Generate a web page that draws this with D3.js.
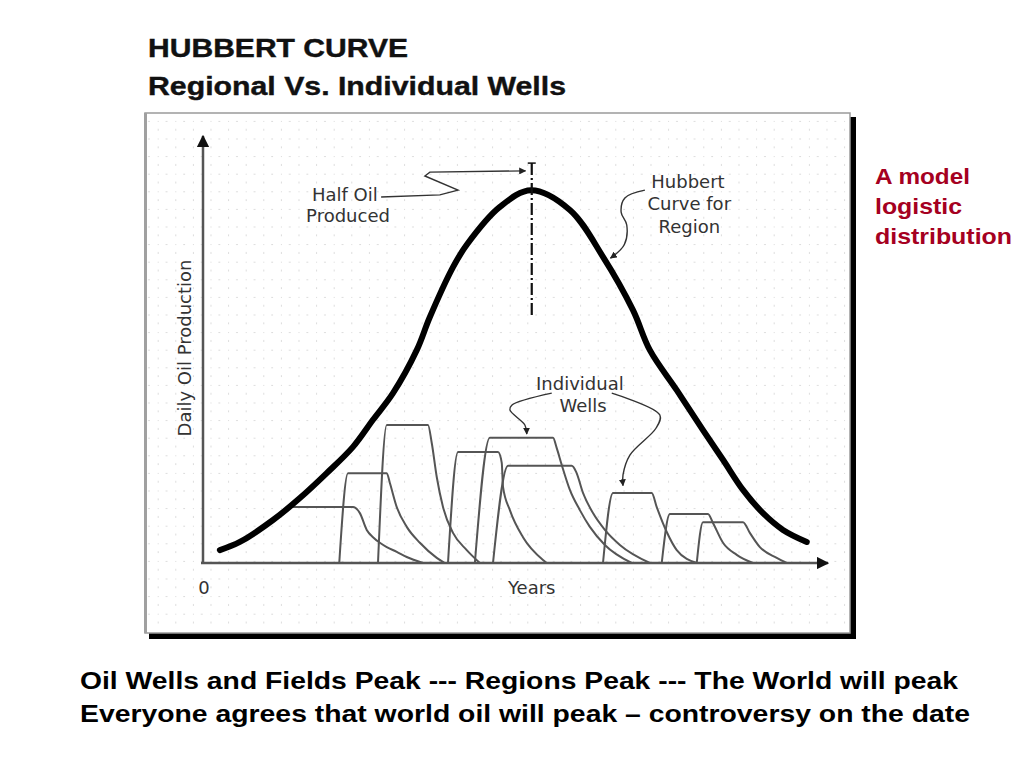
<!DOCTYPE html>
<html><head><meta charset="utf-8">
<script src="https://cdn.jsdelivr.net/npm/d3@7/dist/d3.min.js"></script>
<style>
html,body{margin:0;padding:0;background:#fff;}
svg{display:block;}
</style></head>
<body>
<svg id="chart" width="1024" height="768"></svg>
<script>
// ---------- DATA (years / production in chart units 0..100) ----------
const titleLines = ["HUBBERT CURVE", "Regional Vs. Individual Wells"];
const yAxisLabel = "Daily Oil Production";
const xAxisLabel = "Years";
const xTickLabels = ["0"];
const sideNote = ["A model", "logistic", "distribution"];
const footer = ["Oil Wells and Fields Peak --- Regions Peak --- The World will peak",
                "Everyone agrees that world oil will peak \u2013 controversy on the date"];

// Regional Hubbert curve [year, production]
const hubbertCurve = [
  [2.7,3.0],[5.9,4.9],[11.2,10.0],[15.5,15.1],[19.8,20.9],[24.0,27.0],[27.2,33.3],
  [30.4,39.5],[34.2,49.5],[36.3,57.2],[40.0,68.8],[42.2,74.0],[47.5,82.8],
  [52.5,86.7],[58.7,82.1],[64.0,71.2],[68.8,58.8],[71.5,49.5],[75.8,40.2],
  [80.0,30.9],[83.2,24.0],[86.4,17.0],[89.6,11.6],[92.8,7.7],[96.6,4.9]
];
const peakYear = 52.6;
const halfOilLine = [93.0, 57.7];  // vertical dash-dot from/to production

// Individual wells [year, production]
const wellA = [[13.8,13.0],[24.0,13.0],[25.1,11.6],[26.2,7.7],[27.2,6.0],[28.3,4.7],[29.4,3.7],[31.0,2.6],[32.6,1.4],[35.2,0]];
const wellB = [[21.8,0],[23.2,20.9],[29.4,20.9],[29.9,18.6],[31.0,13.0],[32.6,8.4],[34.7,4.7],[37.4,1.2],[38.7,0]];
const wellC = [[28.0,0],[29.4,32.1],[36.0,32.1],[36.6,27.9],[37.4,20.0],[38.4,13.0],[40.0,7.0],[42.2,3.0],[44.3,0]];
const wellD = [[39.2,0],[40.8,25.8],[47.2,25.8],[47.8,23.3],[48.0,17.7],[49.1,12.3],[51.2,6.0],[54.4,0.7],[55.0,0]];
const wellE = [[43.5,0],[45.9,29.1],[56.0,29.1],[56.6,26.7],[57.4,22.8],[58.7,17.0],[60.3,12.3],[61.9,8.4],[64.3,4.2],[68.6,0]];
const wellF = [[46.4,0],[48.8,22.6],[59.0,22.6],[59.7,21.2],[60.8,16.3],[62.4,11.6],[64.3,7.7],[66.7,4.2],[71.5,0]];
const wellG = [[64.0,0],[65.6,16.3],[71.8,16.3],[72.6,13.0],[74.2,7.2],[75.8,3.0],[79.0,0]];
const wellH = [[73.4,0],[74.7,11.4],[80.8,11.4],[81.6,9.3],[83.2,4.7],[85.4,1.9],[88.0,0]];
const wellI = [[79.0,0],[80.0,9.5],[86.4,9.5],[87.5,7.0],[89.1,3.7],[91.8,1.2],[93.4,0]];
const wells = [wellA, wellB, wellC, wellD, wellE, wellF, wellG, wellH, wellI];

// Annotations (chart units)
const halfOilText = [{t:"Half Oil", x:22.7, y:84.2}, {t:"Produced", x:23.2, y:79.3}];
const halfOilLeader = [[28.5,85.1],[37.9,85.6],[40.8,86.7],[35.5,90.0],[36.3,90.9],[51.6,91.2]];
const hubbertText = [{t:"Hubbert", x:77.6, y:87.2}, {t:"Curve for", x:77.8, y:82.1}, {t:"Region", x:77.8, y:76.7}];
const hubbertLeader = [[70.7,86.7],[67.5,84.9],[66.9,81.6],[67.8,78.6],[67.4,74.0],[65.2,70.9]];
const wellsText = [{t:"Individual", x:60.3, y:40.2}, {t:"Wells", x:60.8, y:35.1}];
const wellsLeaderL = [[55.8,39.5],[49.4,36.7],[49.1,35.6],[51.5,32.1],[51.8,30.0]];
const wellsLeaderR = [[65.4,39.5],[73.1,34.4],[72.5,31.4],[68.3,25.1],[67.2,20.5],[67.2,18.0]];

// ---------- DRAW ----------
const svg = d3.select("#chart");
const x = d3.scaleLinear().domain([0,100]).range([203,828]);
const y = d3.scaleLinear().domain([0,100]).range([563,133]);

const defs = svg.append("defs");
const pat = defs.append("pattern").attr("id","dots").attr("patternUnits","userSpaceOnUse")
  .attr("x",703.3).attr("y",261.7).attr("width",17.6).attr("height",17.6);
[[0,0],[8.8,0],[0,8.8]].forEach(p=>pat.append("rect").attr("x",p[0]-0.6).attr("y",p[1]-0.6)
  .attr("width",1.3).attr("height",1.3).attr("fill","#b4b4b4"));
function marker(id, color){
  defs.append("marker").attr("id",id).attr("viewBox","0 0 10 10").attr("refX",9).attr("refY",5)
    .attr("markerWidth",5).attr("markerHeight",5).attr("orient","auto-start-reverse")
    .append("path").attr("d","M0,0L10,5L0,10z").attr("fill",color);
}
marker("arr","#111");
marker("arrSmall","#222");

// Titles
svg.append("text").attr("x",148).attr("y",57).text(titleLines[0])
  .attr("font-family","Liberation Sans, Arial, sans-serif").attr("font-weight","bold")
  .attr("font-size",25).attr("fill","#111").attr("stroke","#111").attr("stroke-width",0.4)
  .attr("textLength",260).attr("lengthAdjust","spacingAndGlyphs");
svg.append("text").attr("x",148).attr("y",95).text(titleLines[1])
  .attr("font-family","Liberation Sans, Arial, sans-serif").attr("font-weight","bold")
  .attr("font-size",25).attr("fill","#111").attr("stroke","#111").attr("stroke-width",0.4)
  .attr("textLength",418).attr("lengthAdjust","spacingAndGlyphs");

// Frame with shadow
svg.append("rect").attr("x",850).attr("y",117).attr("width",6).attr("height",522).attr("fill","#000");
svg.append("rect").attr("x",149).attr("y",633).attr("width",707).attr("height",6).attr("fill","#000");
svg.append("rect").attr("x",145).attr("y",113).attr("width",705).attr("height",520)
  .attr("fill","#fff").attr("stroke","#9a9a9a").attr("stroke-width",1.5);
svg.append("rect").attr("x",144).attr("y",113).attr("width",3).attr("height",520).attr("fill","#a0a0a0");
svg.append("rect").attr("x",147).attr("y",116).attr("width",701).attr("height",515).attr("fill","url(#dots)");

// Axes
svg.append("line").attr("x1",x(0)).attr("y1",y(0)).attr("x2",x(0)).attr("y2",y(100)+3)
  .attr("stroke","#555").attr("stroke-width",2.5).attr("marker-end","url(#arr)");
svg.append("line").attr("x1",x(0)-2).attr("y1",y(0)).attr("x2",x(100)).attr("y2",y(0))
  .attr("stroke","#555").attr("stroke-width",2.5).attr("marker-end","url(#arr)");

const lblFont = "DejaVu Sans, Verdana, sans-serif";
svg.append("text").attr("transform",`translate(${x(0)-12},${y(50)}) rotate(-90)`)
  .attr("text-anchor","middle").attr("font-family",lblFont).attr("font-size",18)
  .attr("fill","#333").text(yAxisLabel);
svg.selectAll(".xtick").data(xTickLabels).join("text").attr("class","xtick")
  .attr("x",x(0)+1).attr("y",y(0)+31).attr("text-anchor","middle")
  .attr("font-family",lblFont).attr("font-size",18).attr("fill","#333").text(d=>d);
svg.append("text").attr("x",x(peakYear)).attr("y",y(0)+31).attr("text-anchor","middle")
  .attr("font-family",lblFont).attr("font-size",18).attr("fill","#333").text(xAxisLabel);

// Wells
const wellLine = d3.line().x(d=>x(d[0])).y(d=>y(d[1])).curve(d3.curveMonotoneX);
svg.selectAll(".well").data(wells).join("path").attr("class","well")
  .attr("d",wellLine).attr("fill","none").attr("stroke","#555").attr("stroke-width",2)
  .attr("stroke-linejoin","round");

// Hubbert curve
svg.append("path").datum(hubbertCurve)
  .attr("d",d3.line().x(d=>x(d[0])).y(d=>y(d[1])).curve(d3.curveCatmullRom.alpha(0.5)))
  .attr("fill","none").attr("stroke","#000").attr("stroke-width",6).attr("stroke-linecap","round");

// Half-oil vertical dash-dot
svg.append("line").attr("x1",x(peakYear)).attr("x2",x(peakYear))
  .attr("y1",y(halfOilLine[0])).attr("y2",y(halfOilLine[1]))
  .attr("stroke","#111").attr("stroke-width",2.2).attr("stroke-dasharray","12,3,2,3");
svg.append("line").attr("x1",x(peakYear)-4).attr("x2",x(peakYear)+4)
  .attr("y1",y(halfOilLine[0])).attr("y2",y(halfOilLine[0]))
  .attr("stroke","#111").attr("stroke-width",1.5);

// Annotation texts
function labels(arr){
  svg.append("g").selectAll("text").data(arr).join("text")
    .attr("x",d=>x(d.x)).attr("y",d=>y(d.y)).attr("text-anchor","middle")
    .attr("font-family",lblFont).attr("font-size",18).attr("fill","#333").text(d=>d.t);
}
labels(halfOilText); labels(hubbertText); labels(wellsText);

const leader = d3.line().x(d=>x(d[0])).y(d=>y(d[1])).curve(d3.curveCatmullRom);
[[halfOilLeader,"linear"],[hubbertLeader,"cr"],[wellsLeaderL,"cr"],[wellsLeaderR,"cr"]].forEach(([pts,k])=>{
  const gen = k==="linear" ? d3.line().x(d=>x(d[0])).y(d=>y(d[1])) : leader;
  svg.append("path").datum(pts).attr("d",gen).attr("fill","none")
    .attr("stroke","#333").attr("stroke-width",1.4).attr("marker-end","url(#arrSmall)");
});

// Side note
const sideLen = [95, 87, 137];
svg.append("g").selectAll("text").data(sideNote).join("text")
  .attr("x",875).attr("y",(d,i)=>184+i*30)
  .attr("font-family","Liberation Sans, Arial, sans-serif").attr("font-weight","bold")
  .attr("font-size",22).attr("fill","#a50021")
  .attr("textLength",(d,i)=>sideLen[i]).attr("lengthAdjust","spacingAndGlyphs").text(d=>d);

// Footer
const footLen = [878, 890];
svg.append("g").selectAll("text").data(footer).join("text")
  .attr("x",80).attr("y",(d,i)=>689+i*33)
  .attr("font-family","Liberation Sans, Arial, sans-serif").attr("font-weight","bold")
  .attr("font-size",24).attr("fill","#000")
  .attr("textLength",(d,i)=>footLen[i]).attr("lengthAdjust","spacingAndGlyphs").text(d=>d);
</script>
</body></html>
